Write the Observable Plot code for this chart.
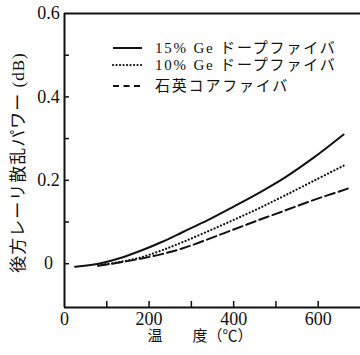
<!DOCTYPE html>
<html><head><meta charset="utf-8">
<script src="https://cdn.jsdelivr.net/npm/d3@7"></script>
<script src="https://cdn.jsdelivr.net/npm/@observablehq/plot@0.6"></script>
<style>
body{margin:0;background:#fff;}
#wrap{position:relative;width:360px;height:355px;overflow:hidden;}
#legend{position:absolute;left:0;top:0;}
</style></head><body><div id="wrap"></div>
<script>
// ---- data ----
const seriesNames = ["15% Ge ドープファイバ", "10% Ge ドープファイバ", "石英コアファイバ"];
const temp15 = [25, 80, 130, 180, 230, 280, 340, 400, 460, 520, 590, 660];
const loss15 = [-0.007, 0.0, 0.013, 0.031, 0.052, 0.076, 0.105, 0.137, 0.170, 0.206, 0.255, 0.310];
const temp10 = [80, 130, 180, 230, 280, 340, 400, 460, 520, 590, 660];
const loss10 = [-0.004, 0.004, 0.015, 0.032, 0.052, 0.078, 0.105, 0.133, 0.163, 0.199, 0.235];
const tempSi = [80, 130, 180, 230, 280, 340, 400, 460, 520, 590, 670];
const lossSi = [-0.005, 0.003, 0.012, 0.023, 0.037, 0.059, 0.082, 0.105, 0.127, 0.153, 0.180];
const xDomain = [0, 700];
const yDomain = [-0.105, 0.6];
const xTicks = [100, 200, 300, 400, 500, 600];
const xTickLabels = [0, 200, 400, 600];
const yTicks = [0, 0.1, 0.2, 0.3, 0.4, 0.5];
const yTickLabels = [0, 0.2, 0.4, 0.6];
const xTitle = "温　　度（℃）";
const yTitle = "後方レーリ散乱パワー (dB)";

const toRows = (xs, ys) => xs.map((x, i) => ({x, y: ys[i]}));
const d15 = toRows(temp15, loss15);
const d10 = toRows(temp10, loss10);
const dSi = toRows(tempSi, lossSi);

const W = 360, H = 355, mL = 64, mT = 13, mB = 48, mR = 0;
const pw = W - mL - mR, ph = H - mT - mB;
const font = "'Liberation Serif','Noto Sans CJK JP',serif";
const ink = "#111";

const chart = Plot.plot({
  width: W, height: H,
  marginLeft: mL, marginTop: mT, marginBottom: mB, marginRight: mR,
  x: {domain: xDomain, axis: null},
  y: {domain: yDomain, axis: null},
  style: {fontFamily: font, fontSize: "16px", background: "#fff", color: ink},
  marks: [
    Plot.ruleX([xDomain[0]], {stroke: ink, strokeWidth: 2}),
    Plot.ruleY([yDomain[0]], {stroke: ink, strokeWidth: 2}),
    Plot.ruleY([yDomain[1]], {stroke: ink, strokeWidth: 2}),
    Plot.ruleY(yTicks, {y: d => d, stroke: ink, strokeWidth: 1.5, insetRight: pw - 5}),
    Plot.ruleX(xTicks, {x: d => d, stroke: ink, strokeWidth: 1.5, insetTop: ph - 6}),
    Plot.text(yTickLabels, {y: d => d, text: d => d === 0 ? "0" : d.toFixed(1), frameAnchor: "left", dx: -16, textAnchor: "middle", fontSize: 18, fontFamily: font, fill: ink}),
    Plot.text(xTickLabels, {x: d => d, text: d => String(d), frameAnchor: "bottom", textAnchor: "middle", lineAnchor: "top", dy: 5, fontSize: 18, fontFamily: font, fill: ink}),
    Plot.text([xTitle], {text: d => d, frameAnchor: "bottom-left", textAnchor: "start", lineAnchor: "top", dx: 83, dy: 23, fontSize: 15, fontFamily: font, fill: ink}),
    Plot.text([yTitle], {text: d => d, frameAnchor: "left", textAnchor: "middle", rotate: -90, dx: -46, dy: 2, fontSize: 17, fontFamily: font, letterSpacing: "1px", fill: ink}),
    Plot.line(d15, {x: "x", y: "y", stroke: ink, strokeWidth: 2, curve: "catmull-rom"}),
    Plot.line(d10, {x: "x", y: "y", stroke: ink, strokeWidth: 2.2, strokeDasharray: "0.1,3.4", strokeLinecap: "round", curve: "catmull-rom"}),
    Plot.line(dSi, {x: "x", y: "y", stroke: ink, strokeWidth: 2, strokeDasharray: "10,4", curve: "catmull-rom"})
  ]
});

const wrap = document.getElementById("wrap");
wrap.appendChild(chart);
// letter-spacing for the rotated title
chart.querySelectorAll("text").forEach(t => { if (t.textContent === yTitle) t.setAttribute("letter-spacing", "1"); });

// legend overlay
const styles = [
  {dash: null},
  {dash: "0.1,3.4", cap: "round", w: 2.2},
  {dash: "6,4.5"}
];
const rowsY = [48, 65, 86];
const ns = "http://www.w3.org/2000/svg";
const lg = document.createElementNS(ns, "svg");
lg.setAttribute("id", "legend");
lg.setAttribute("width", W); lg.setAttribute("height", 110);
seriesNames.forEach((name, i) => {
  const y = rowsY[i];
  const l = document.createElementNS(ns, "line");
  l.setAttribute("x1", 113); l.setAttribute("x2", 142);
  l.setAttribute("y1", y); l.setAttribute("y2", y);
  l.setAttribute("stroke", ink);
  l.setAttribute("stroke-width", styles[i].w || 2);
  if (styles[i].dash) l.setAttribute("stroke-dasharray", styles[i].dash);
  if (styles[i].cap) l.setAttribute("stroke-linecap", styles[i].cap);
  lg.appendChild(l);
  const t = document.createElementNS(ns, "text");
  t.setAttribute("x", 155); t.setAttribute("y", y + 5);
  t.setAttribute("font-family", font);
  t.setAttribute("font-size", 15);
  t.setAttribute("letter-spacing", "1.8");
  t.setAttribute("fill", ink);
  t.textContent = name;
  lg.appendChild(t);
});
wrap.appendChild(lg);
</script>
</body></html>
